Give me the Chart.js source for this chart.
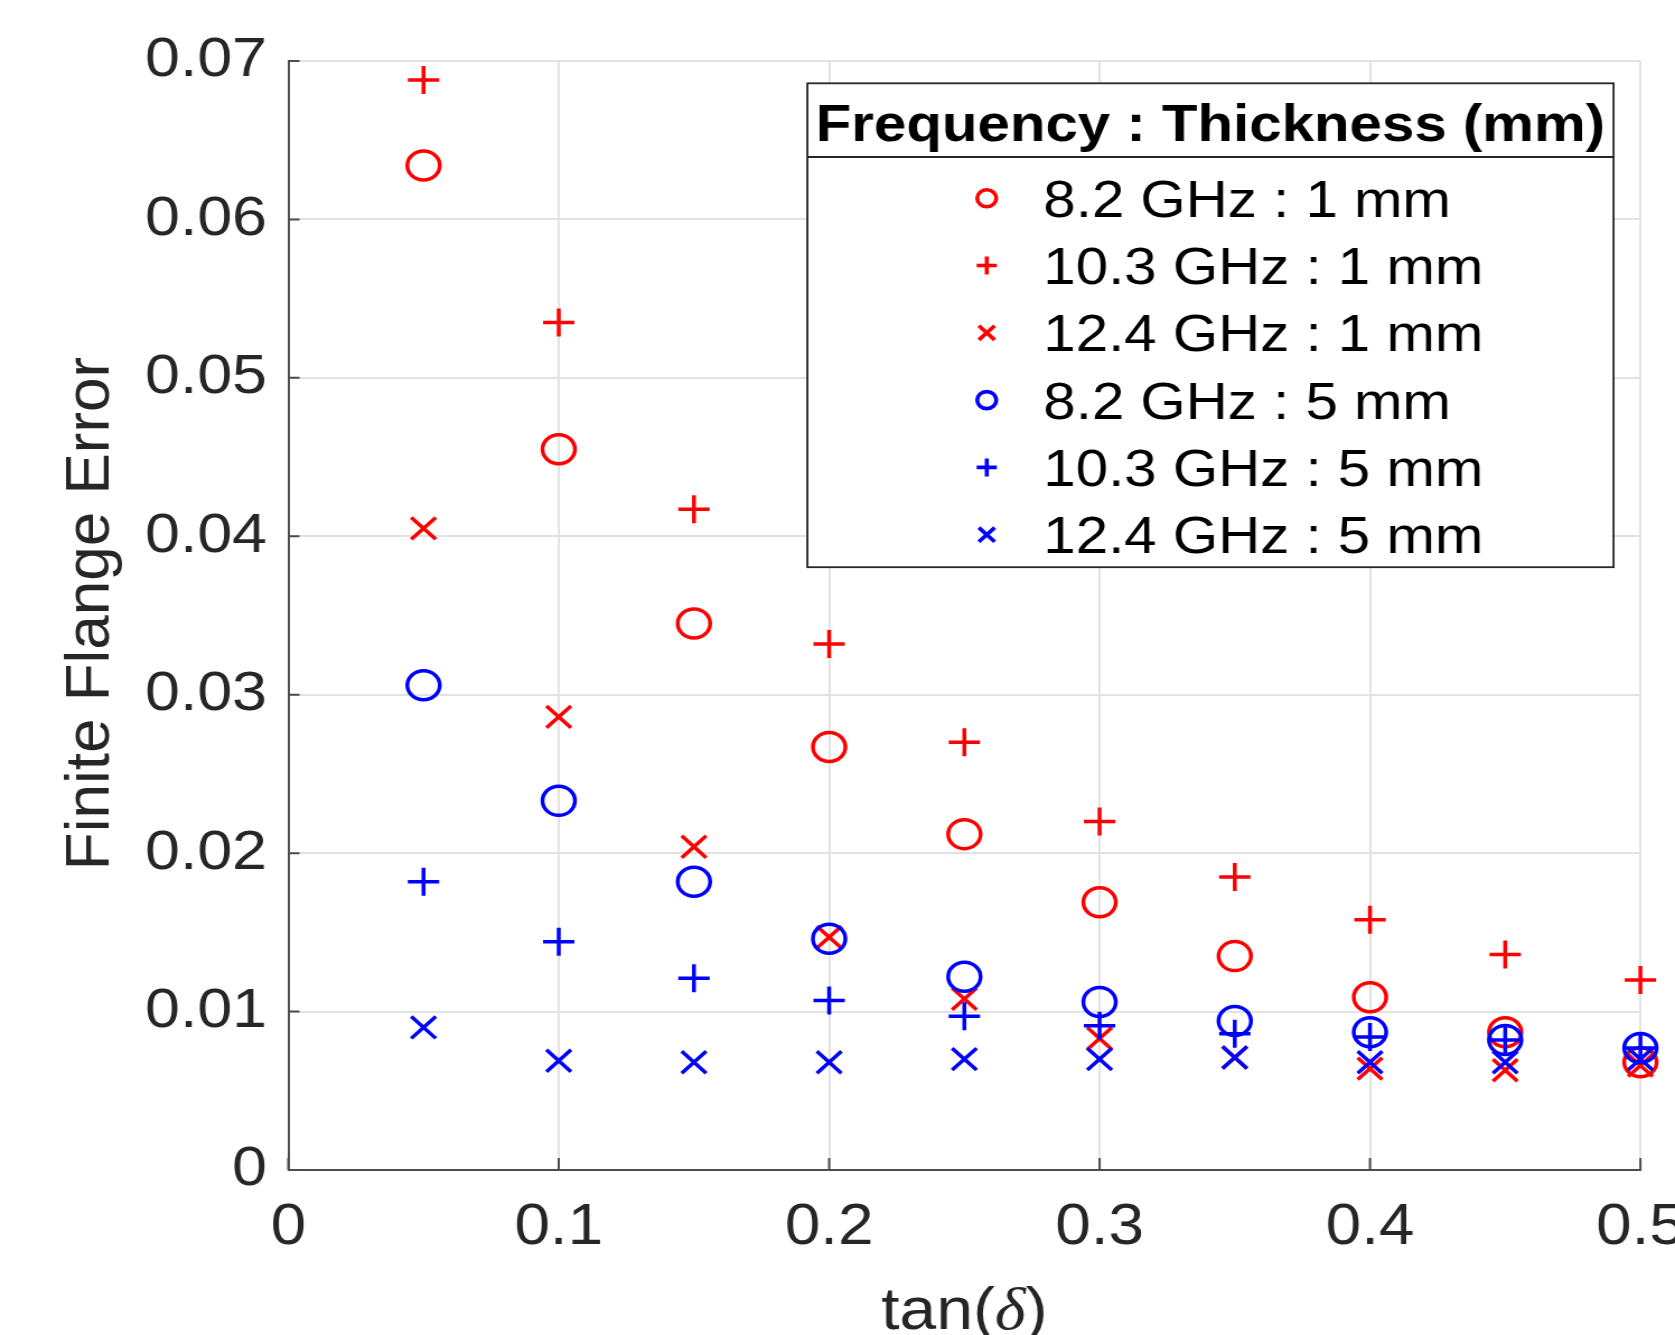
<!DOCTYPE html>
<html><head><meta charset="utf-8">
<script src="https://cdn.jsdelivr.net/npm/chart.js@4.4.1/dist/chart.umd.min.js"></script>
<style>
html,body{margin:0;padding:0;background:#fff;overflow:hidden;width:1675px;height:1335px;}
#wrap{position:absolute;left:0;top:0;width:1496px;height:1335px;transform:scaleX(1.11965);transform-origin:0 0;}
canvas{display:block;}
</style></head><body>
<div id="wrap"><canvas id="c" width="1496" height="1335"></canvas></div>
<script>
// ---- data ----
const tanDelta = [0.05, 0.10, 0.15, 0.20, 0.25, 0.30, 0.35, 0.40, 0.45, 0.50];
const seriesLabels = ['8.2 GHz : 1 mm', '10.3 GHz : 1 mm', '12.4 GHz : 1 mm', '8.2 GHz : 5 mm', '10.3 GHz : 5 mm', '12.4 GHz : 5 mm'];
const err82_1mm  = [0.0634, 0.0455, 0.0345, 0.0267, 0.0212, 0.0169, 0.0135, 0.0109, 0.0087, 0.0068];
const err103_1mm = [0.0688, 0.0535, 0.0417, 0.0332, 0.0270, 0.0220, 0.0185, 0.0158, 0.0136, 0.0120];
const err124_1mm = [0.0405, 0.0286, 0.0204, 0.0147, 0.0108, 0.0083, 0.0071, 0.0064, 0.0063, 0.0066];
const err82_5mm  = [0.0306, 0.0233, 0.0182, 0.0146, 0.0122, 0.0106, 0.0094, 0.0087, 0.0082, 0.0077];
const err103_5mm = [0.0182, 0.0144, 0.0121, 0.0107, 0.0097, 0.0091, 0.0086, 0.0084, 0.0082, 0.0077];
const err124_5mm = [0.0090, 0.0069, 0.0068, 0.0068, 0.0070, 0.0070, 0.0071, 0.0068, 0.0068, 0.0070];
const xTickValues = [0, 0.1, 0.2, 0.3, 0.4, 0.5];
const xTickLabels = ['0', '0.1', '0.2', '0.3', '0.4', '0.5'];
const yTickValues = [0, 0.01, 0.02, 0.03, 0.04, 0.05, 0.06, 0.07];
const yTickLabels = ['0', '0.01', '0.02', '0.03', '0.04', '0.05', '0.06', '0.07'];
const legendTitle = 'Frequency : Thickness (mm)';
const xAxisTitle = ['tan(', 'δ', ')'];
const yAxisTitle = 'Finite Flange Error';

// ---- styles ----
const RED = '#ff0000', BLUE = '#0000ff';
const seriesValues = [err82_1mm, err103_1mm, err124_1mm, err82_5mm, err103_5mm, err124_5mm];
const seriesColors = [RED, RED, RED, BLUE, BLUE, BLUE];
const seriesStyles = ['circle', 'cross', 'crossRot', 'circle', 'cross', 'crossRot'];
const plotRadius = {circle: 14.5, cross: 14, crossRot: 15.5};
const legendRadius = {circle: 8.5, cross: 9, crossRot: 10};
const STRETCH = 1.11965;
const FONT = '"Liberation Sans", Arial, Helvetica, sans-serif';

const datasets = seriesValues.map((vals, i) => ({
  label: seriesLabels[i],
  data: tanDelta.map((x, j) => ({x: x, y: vals[j]})),
  showLine: false,
  pointStyle: seriesStyles[i],
  pointRadius: plotRadius[seriesStyles[i]],
  pointHoverRadius: plotRadius[seriesStyles[i]],
  borderColor: seriesColors[i],
  backgroundColor: 'rgba(0,0,0,0)',
  pointBorderWidth: 3.5,
  borderWidth: 3.5,
  clip: false,
  order: 10 - i
}));

function drawMarker(ctx, style, x, y, r) {
  ctx.beginPath();
  if (style === 'circle') {
    ctx.arc(x, y, r, 0, Math.PI * 2);
  } else if (style === 'cross') {
    ctx.moveTo(x - r, y); ctx.lineTo(x + r, y);
    ctx.moveTo(x, y - r); ctx.lineTo(x, y + r);
  } else {
    const d = r * Math.SQRT1_2;
    ctx.moveTo(x - d, y - d); ctx.lineTo(x + d, y + d);
    ctx.moveTo(x + d, y - d); ctx.lineTo(x - d, y + d);
  }
  ctx.stroke();
}

const decorPlugin = {
  id: 'decor',
  afterDraw(chart) {
    const ctx = chart.ctx;
    const a = chart.chartArea;
    const xs = chart.scales.x, ys = chart.scales.y;
    ctx.save();
    // inward ticks
    ctx.strokeStyle = '#4d4d4d';
    ctx.lineWidth = 2;
    ctx.beginPath();
    yTickValues.forEach(v => {
      const y = ys.getPixelForValue(v);
      ctx.moveTo(a.left, y); ctx.lineTo(a.left + 10, y);
    });
    xTickValues.forEach(v => {
      const x = xs.getPixelForValue(v);
      ctx.moveTo(x, a.bottom); ctx.lineTo(x, a.bottom - 12);
    });
    ctx.stroke();

    // x axis title
    ctx.fillStyle = '#262626';
    ctx.textBaseline = 'alphabetic';
    ctx.textAlign = 'left';
    const fN = '59px ' + FONT, fI = 'italic 59px "Liberation Serif", "Times New Roman", serif';
    const fonts = [fN, fI, fN];
    const widths = xAxisTitle.map((t, i) => { ctx.font = fonts[i]; return ctx.measureText(t).width; });
    const total = widths.reduce((s, w) => s + w, 0);
    let tx = (a.left + a.right) / 2 - total / 2;
    xAxisTitle.forEach((t, i) => { ctx.font = fonts[i]; ctx.fillText(t, tx, 1329); tx += widths[i]; });

    // y axis title
    ctx.save();
    ctx.translate(96.5, (a.top + a.bottom) / 2 - 2);
    ctx.scale(1 / STRETCH, 1);
    ctx.rotate(-Math.PI / 2);
    ctx.font = '62px ' + FONT;
    ctx.textAlign = 'center';
    ctx.fillText(yAxisTitle, 0, 0);
    ctx.restore();

    // legend
    const L = 721.1, R = 1441.1, T = 83.3, B = 567.2;
    ctx.fillStyle = '#ffffff';
    ctx.fillRect(L, T, R - L, B - T);
    ctx.strokeStyle = '#262626';
    ctx.lineWidth = 1.8;
    ctx.strokeRect(L, T, R - L, B - T);
    ctx.beginPath(); ctx.moveTo(L, 157); ctx.lineTo(R, 157); ctx.stroke();
    ctx.fillStyle = '#000000';
    ctx.font = 'bold 52px ' + FONT;
    ctx.textAlign = 'center';
    ctx.fillText(legendTitle, (L + R) / 2, 141);
    ctx.textAlign = 'left';
    ctx.font = '52px ' + FONT;
    chart.data.datasets.forEach((ds, i) => {
      const base = 216.8 + i * 67.3;
      ctx.fillStyle = '#000000';
      ctx.fillText(ds.label, 931.8, base);
      ctx.strokeStyle = ds.borderColor;
      ctx.lineWidth = 3.6;
      drawMarker(ctx, ds.pointStyle, 881.3, base - 18.6, legendRadius[ds.pointStyle]);
    });
    ctx.restore();
  }
};

new Chart(document.getElementById('c'), {
  type: 'scatter',
  data: {datasets: datasets},
  options: {
    responsive: false,
    animation: false,
    events: [],
    layout: {padding: {left: 0, right: 30.9, top: 61, bottom: 0}},
    plugins: {legend: {display: false}, tooltip: {enabled: false}},
    scales: {
      x: {
        type: 'linear', min: 0, max: 0.5,
        afterBuildTicks: s => { s.ticks = xTickValues.map(v => ({value: v})); },
        afterFit: s => { s.height = 165; s.paddingLeft = 0; s.paddingRight = 0; },
        ticks: {
          autoSkip: false, maxRotation: 0, padding: 24, color: '#262626',
          font: {family: FONT, size: 57},
          callback: (v, i) => xTickLabels[i]
        },
        grid: {color: '#e2e2e2', lineWidth: 2, drawTicks: false},
        border: {display: true, color: '#4d4d4d', width: 2}
      },
      y: {
        type: 'linear', min: 0, max: 0.07,
        afterBuildTicks: s => { s.ticks = yTickValues.map(v => ({value: v})); },
        afterFit: s => { s.width = 257.5; s.paddingTop = 0; s.paddingBottom = 0; },
        ticks: {
          autoSkip: false, padding: 19, color: '#262626',
          font: {family: FONT, size: 56},
          callback: (v, i) => yTickLabels[i]
        },
        grid: {color: '#e2e2e2', lineWidth: 2, drawTicks: false},
        border: {display: true, color: '#4d4d4d', width: 2}
      }
    }
  },
  plugins: [decorPlugin]
});
</script>
</body></html>
